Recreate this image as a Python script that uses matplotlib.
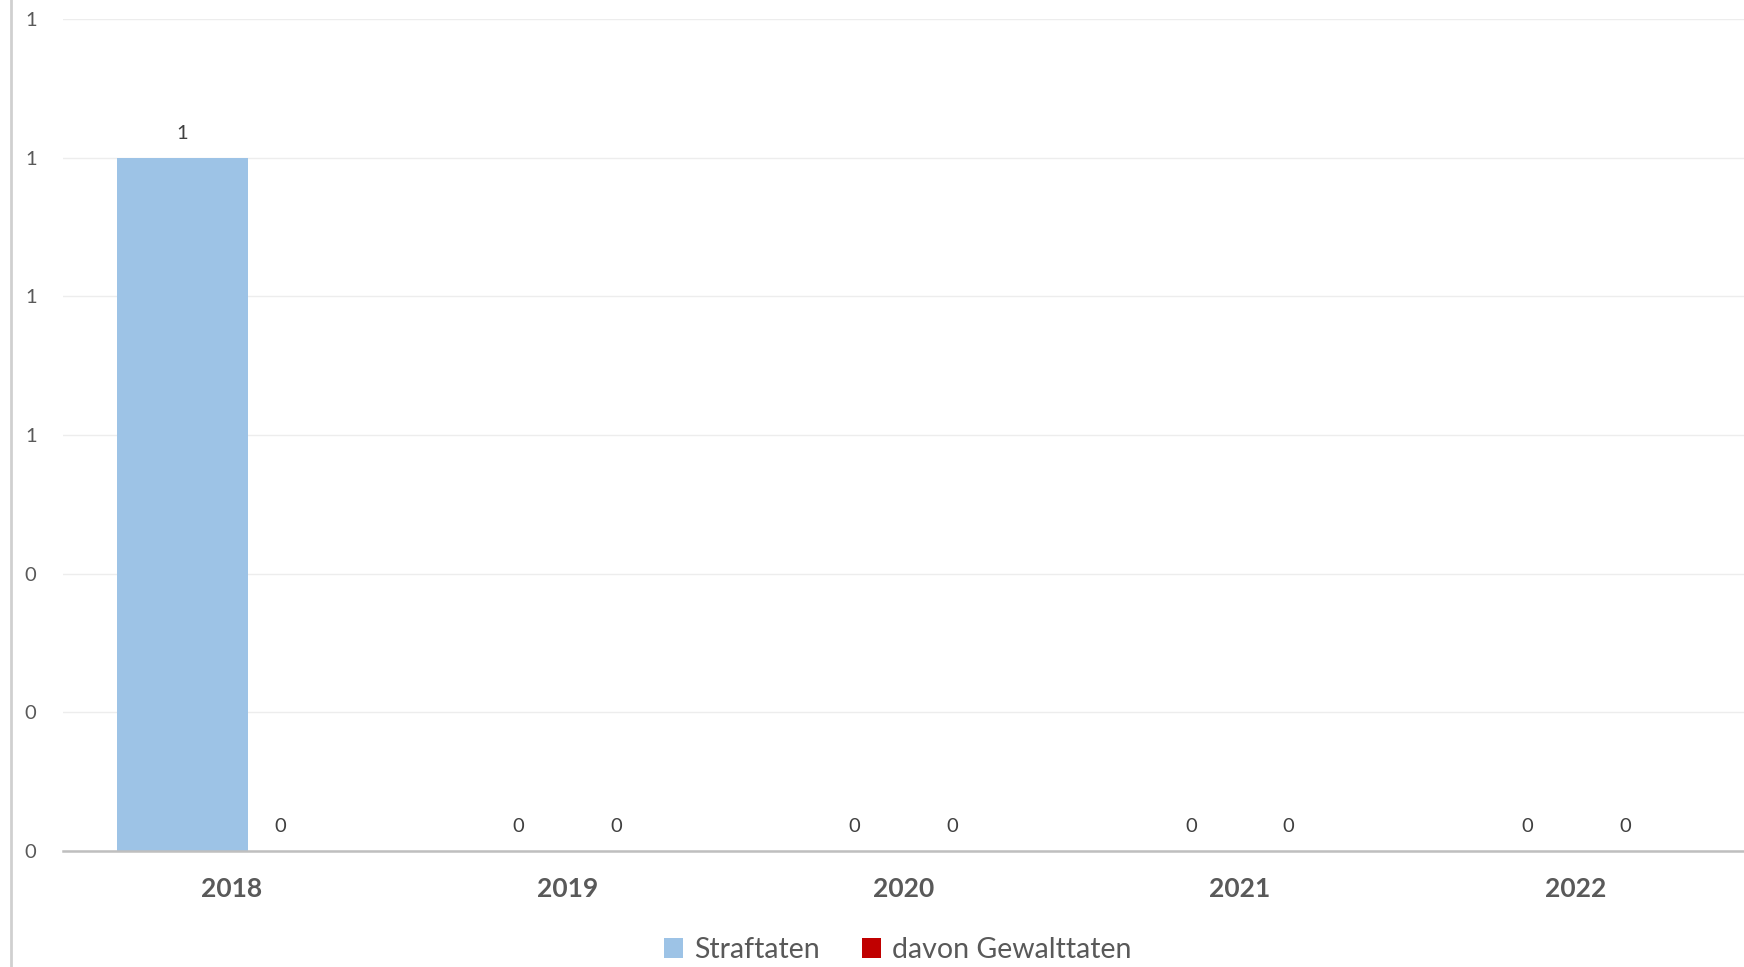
import matplotlib
matplotlib.use("Agg")
import matplotlib.pyplot as plt
import matplotlib.ticker as mticker
from matplotlib.lines import Line2D
from matplotlib.patches import Patch
import numpy as np

years = ["2018", "2019", "2020", "2021", "2022"]
straftaten = [1, 0, 0, 0, 0]
gewalttaten = [0, 0, 0, 0, 0]
series_names = ["Straftaten", "davon Gewalttaten"]
colors = ["#9DC3E6", "#C00000"]

plt.rcParams['font.family'] = ['Lato', 'DejaVu Sans']

W, H = 1744, 967
fig = plt.figure(figsize=(W / 100, H / 100), dpi=100)
ax = fig.add_axes([63 / W, 1 - 851 / H, (1744 - 63) / W, (851 - 19) / H])

x = np.arange(len(years))
off = 49 / 337
bw = 131 / 337
b1 = ax.bar(x - off, straftaten, bw, color=colors[0], zorder=2)
b2 = ax.bar(x + off, gewalttaten, bw, color=colors[1], zorder=3)

for bars, vals in ((b1, straftaten), (b2, gewalttaten)):
    for rect, v in zip(bars, vals):
        ax.annotate(f"{v:.0f}", (rect.get_x() + rect.get_width() / 2, v),
                    xytext=(0, 16), textcoords="offset pixels",
                    ha="center", va="bottom", fontsize=14.5, color="#404040")

ax.set_xlim(-0.5, len(years) - 0.5)
ax.set_ylim(0, 1.2)
ax.set_yticks(np.arange(0, 1.21, 0.2))
ax.yaxis.set_major_formatter(mticker.FuncFormatter(lambda v, p: f"{v:.0f}"))
ax.set_xticks(x)
ax.set_xticklabels(years, fontsize=19, fontweight="bold", color="#595959")
ax.tick_params(axis="y", length=0, pad=19, labelsize=14.5, labelcolor="#595959")
ax.tick_params(axis="x", length=0, pad=19)
ax.grid(axis="y", color="#EDEDED", linewidth=1, zorder=0)
ax.set_axisbelow(True)
for s in ("top", "right", "left"):
    ax.spines[s].set_visible(False)
ax.spines["bottom"].set_color("#BFBFBF")
ax.spines["bottom"].set_linewidth(1.8)
ax.spines["bottom"].set_zorder(4)

# chart border on the left
fig.add_artist(Line2D([11 / W, 11 / W], [0, 1], transform=fig.transFigure,
                      color="#D0D0D0", linewidth=2))

handles = [Patch(facecolor=c, edgecolor="none") for c in colors]
fig.legend(handles, series_names, loc="center", bbox_to_anchor=(898 / W, 1 - 950 / H),
           ncol=2, frameon=False, fontsize=20.5, labelcolor="#595959",
           handlelength=0.65, handleheight=0.65, handletextpad=0.4, columnspacing=1.5)

fig.savefig("out.png", dpi=100)
